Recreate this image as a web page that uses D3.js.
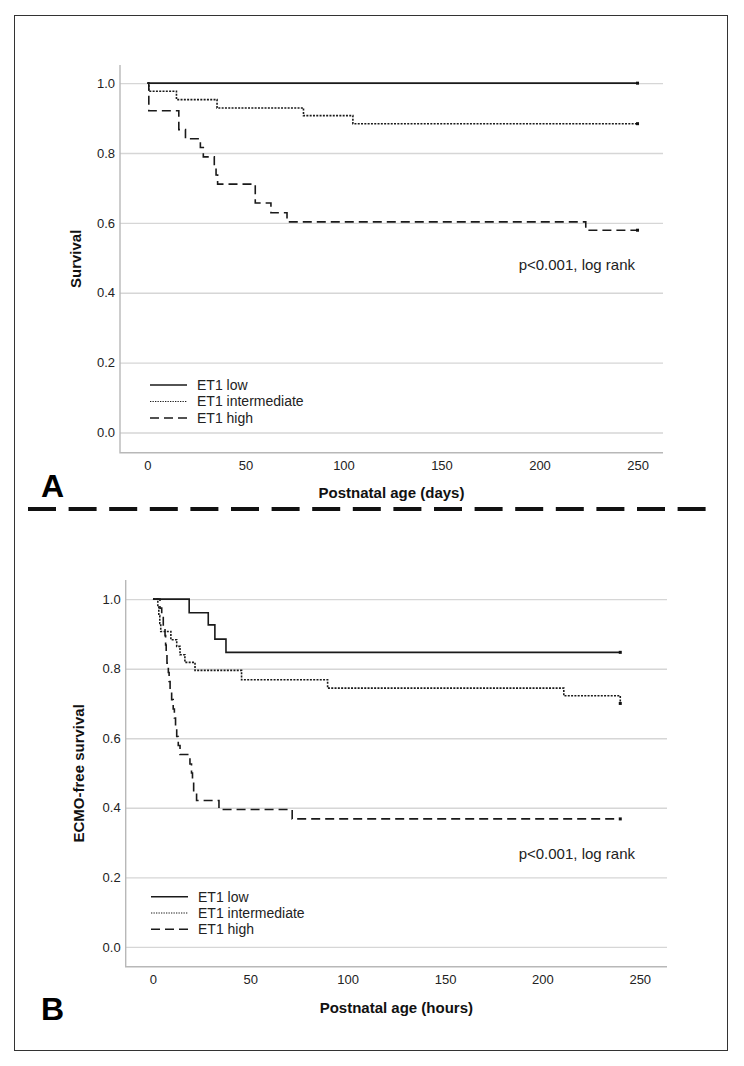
<!DOCTYPE html>
<html>
<head>
<meta charset="utf-8">
<script src="https://cdn.jsdelivr.net/npm/d3@7"></script>
<style>
  body { margin: 0; background: #fff; }
  svg { display: block; font-family: "Liberation Sans", Arial, Helvetica, sans-serif; }
</style>
</head>
<body>
<svg id="chart" width="744" height="1066"></svg>
<script>
// ---- data (time, survival after step) ----
const groupNames = ["ET1 low", "ET1 intermediate", "ET1 high"];
const xTicks = [0, 50, 100, 150, 200, 250];
const yTicks = [0, 0.2, 0.4, 0.6, 0.8, 1.0];

// panel A: postnatal age in days
const lowA = [[0, 1], [250, 1]];
const intA = [[0, 1], [0.7, 0.977], [14.8, 0.953], [35.5, 0.929], [79.6, 0.907], [104.8, 0.884], [250, 0.884]];
const highA = [[0, 1], [0.7, 0.921], [16, 0.867], [19.4, 0.841], [27, 0.816], [28.5, 0.789], [34.1, 0.763],
  [35, 0.737], [35.8, 0.711], [55, 0.657], [63, 0.629], [71.2, 0.603], [223.6, 0.579], [250, 0.579]];

// panel B: postnatal age in hours
const lowB = [[0, 1], [18.6, 0.961], [28.4, 0.926], [31.8, 0.885], [37.5, 0.847], [240, 0.847]];
const intB = [[0, 1], [2, 1], [2.5, 0.977], [3, 0.953], [3.5, 0.93], [4, 0.907], [9.2, 0.883], [12.2, 0.864],
  [13.9, 0.84], [16.4, 0.818], [21.6, 0.795], [45.5, 0.768], [89.7, 0.744], [211, 0.722], [240, 0.7]];
const highB = [[0, 1], [3.6, 0.974], [4.5, 0.947], [5.3, 0.921], [6.2, 0.895], [6.5, 0.868], [6.8, 0.842],
  [7.2, 0.816], [7.9, 0.789], [8.3, 0.763], [8.8, 0.737], [9.6, 0.711], [10.4, 0.684], [11, 0.658],
  [11.6, 0.632], [12.2, 0.605], [13, 0.579], [13.9, 0.553], [19, 0.526], [19.8, 0.5], [20.3, 0.474],
  [20.9, 0.447], [22.4, 0.421], [33.9, 0.395], [71.5, 0.368], [240, 0.368]];

const styles = [
  { dash: null, legendDash: null },
  { dash: "2,1.3", legendDash: "1.3,1.2" },
  { dash: "9,5", legendDash: "9,5" }
];

const svg = d3.select("#chart");

svg.append("rect")
  .attr("x", 14.5).attr("y", 15.5)
  .attr("width", 713).attr("height", 1035)
  .attr("fill", "none")
  .attr("stroke", "#333")
  .attr("stroke-width", 1);

// separator between panels
svg.append("line")
  .attr("x1", 28).attr("x2", 718)
  .attr("y1", 509).attr("y2", 509)
  .attr("stroke", "#111")
  .attr("stroke-width", 4)
  .attr("stroke-dasharray", "28,12.6");

function drawPanel(p) {
  const x = d3.scaleLinear().domain(p.xDomain).range([p.left, p.right]);
  const y = d3.scaleLinear().domain(p.yDomain).range([p.bottom, p.top]);
  const g = svg.append("g");

  // gridlines
  g.append("g")
    .attr("transform", `translate(${p.left},0)`)
    .call(d3.axisLeft(y).tickValues(yTicks).tickSize(-(p.right - p.left)).tickFormat(""))
    .call((s) => s.select(".domain").remove())
    .call((s) => s.selectAll("line").attr("stroke", "#d6d6d6").attr("stroke-width", 1.4));

  // axis lines
  g.append("path")
    .attr("d", `M${p.left},${p.top}V${p.bottom}H${p.right}`)
    .attr("fill", "none")
    .attr("stroke", "#b8b8b8")
    .attr("stroke-width", 1.4);

  g.append("g")
    .attr("transform", `translate(${p.left},0)`)
    .call(d3.axisLeft(y).tickValues(yTicks).tickSize(0).tickPadding(5).tickFormat(d3.format(".1f")))
    .call((s) => s.select(".domain").remove())
    .call((s) => s.selectAll("text").attr("fill", "#222").style("font-size", "13px"));

  g.append("g")
    .attr("transform", `translate(0,${p.bottom})`)
    .call(d3.axisBottom(x).tickValues(xTicks).tickSize(0).tickPadding(8).tickFormat(d3.format("d")))
    .call((s) => s.select(".domain").remove())
    .call((s) => s.selectAll("text").attr("fill", "#222").style("font-size", "13px"));

  // curves
  const line = d3.line()
    .x((d) => x(d[0]))
    .y((d) => y(d[1]))
    .curve(d3.curveStepAfter);

  p.series.forEach((data, i) => {
    g.append("path")
      .datum(data)
      .attr("d", line)
      .attr("fill", "none")
      .attr("stroke", "#1a1a1a")
      .attr("stroke-width", 1.6)
      .attr("stroke-dasharray", styles[i].dash);

    const last = data[data.length - 1];
    g.append("rect")
      .attr("x", x(last[0]) - 1.5)
      .attr("y", y(last[1]) - 1.5)
      .attr("width", 3)
      .attr("height", 3)
      .attr("fill", "#111");
  });

  // legend
  groupNames.forEach((name, i) => {
    const ly = p.legendY + i * p.legendStep;
    g.append("line")
      .attr("x1", p.legendX).attr("x2", p.legendX + 37)
      .attr("y1", ly).attr("y2", ly)
      .attr("stroke", "#1a1a1a")
      .attr("stroke-width", i === 1 ? 1.2 : 1.6)
      .attr("stroke-dasharray", styles[i].legendDash);
    g.append("text")
      .attr("x", p.legendX + 47)
      .attr("y", ly)
      .attr("dy", "0.35em")
      .attr("fill", "#222")
      .style("font-size", "14px")
      .text(name);
  });

  g.append("text")
    .attr("x", p.pX)
    .attr("y", p.pY)
    .attr("dy", "0.35em")
    .attr("text-anchor", "end")
    .attr("fill", "#222")
    .style("font-size", "15px")
    .text("p<0.001, log rank");

  // axis titles
  g.append("text")
    .attr("transform", `translate(${p.yTitleX},${(p.top + p.bottom) / 2}) rotate(-90)`)
    .attr("text-anchor", "middle")
    .attr("fill", "#111")
    .style("font-size", "15px")
    .style("font-weight", "bold")
    .text(p.yTitle);

  g.append("text")
    .attr("x", (p.left + p.right) / 2)
    .attr("y", p.xTitleY)
    .attr("text-anchor", "middle")
    .attr("fill", "#111")
    .style("font-size", "15px")
    .style("font-weight", "bold")
    .text(p.xTitle);

  g.append("text")
    .attr("x", 41)
    .attr("y", p.letterY)
    .attr("fill", "#000")
    .style("font-size", "32px")
    .style("font-weight", "bold")
    .text(p.letter);
}

drawPanel({
  left: 120, right: 663, top: 65, bottom: 452.7,
  xDomain: [-14, 263], yDomain: [-0.058, 1.052],
  series: [lowA, intA, highA],
  legendX: 150, legendY: 385, legendStep: 16.5,
  pX: 635, pY: 265,
  yTitle: "Survival", yTitleX: 81,
  xTitle: "Postnatal age (days)", xTitleY: 498,
  letter: "A", letterY: 497
});

drawPanel({
  left: 125.7, right: 667, top: 580, bottom: 966.7,
  xDomain: [-14, 264], yDomain: [-0.057, 1.055],
  series: [lowB, intB, highB],
  legendX: 151, legendY: 896.7, legendStep: 16.3,
  pX: 635, pY: 853.5,
  yTitle: "ECMO-free survival", yTitleX: 84,
  xTitle: "Postnatal age (hours)", xTitleY: 1013,
  letter: "B", letterY: 1020
});
</script>
</body>
</html>
